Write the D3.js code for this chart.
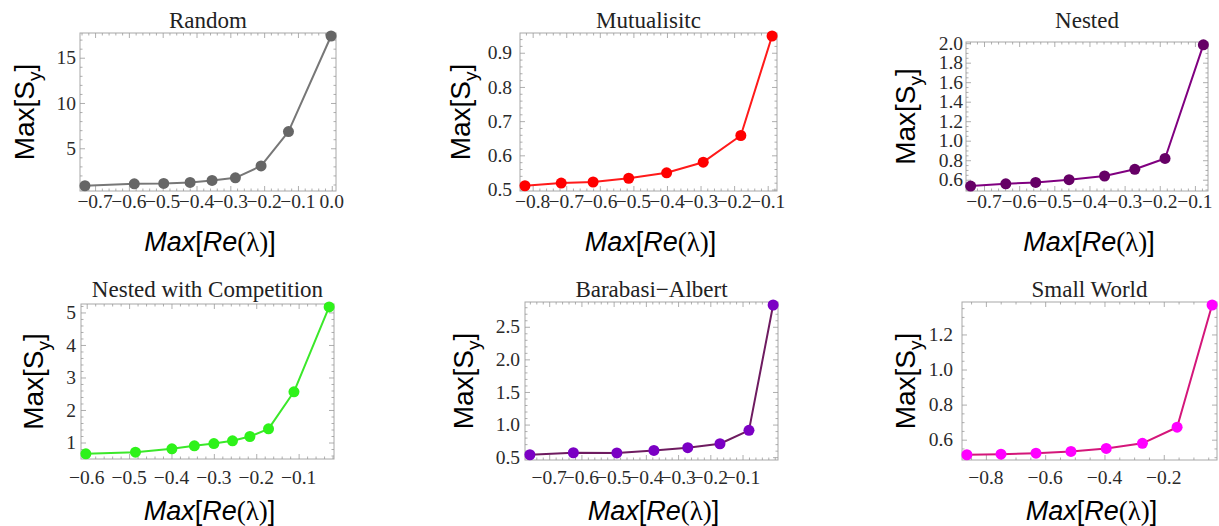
<!DOCTYPE html>
<html>
<head>
<meta charset="utf-8">
<script src="https://cdn.jsdelivr.net/npm/d3@7"></script>
<style>
  body { margin: 0; background: #fff; }
</style>
</head>
<body>
<svg id="chart" width="1219" height="526"></svg>
<script>
// values, one pair of arrays per panel
var titles = ["Random", "Mutualisitc", "Nested", "Nested with Competition",
              "Barabasi\u2212Albert", "Small World"];

var randomX = [-0.730, -0.584, -0.497, -0.419, -0.354, -0.285, -0.209, -0.128, -0.002];
var randomY = [0.86, 1.08, 1.12, 1.23, 1.45, 1.74, 3.05, 6.84, 17.4];

var mutualX = [-0.823, -0.715, -0.620, -0.514, -0.401, -0.292, -0.180, -0.087];
var mutualY = [0.511, 0.519, 0.522, 0.533, 0.549, 0.580, 0.658, 0.949];

var nestedX = [-0.738, -0.638, -0.553, -0.458, -0.357, -0.271, -0.185, -0.076];
var nestedY = [0.535, 0.558, 0.572, 0.600, 0.638, 0.707, 0.818, 1.983];

var competX = [-0.602, -0.485, -0.399, -0.346, -0.300, -0.256, -0.215, -0.171, -0.111, -0.028];
var competY = [0.651, 0.703, 0.805, 0.898, 0.969, 1.053, 1.185, 1.42, 2.56, 5.17];

var baX = [-0.760, -0.625, -0.490, -0.375, -0.270, -0.170, -0.080, -0.005];
var baY = [0.537, 0.568, 0.565, 0.603, 0.645, 0.706, 0.911, 2.834];

var swX = [-0.864, -0.749, -0.631, -0.513, -0.394, -0.272, -0.155, -0.037];
var swY = [0.514, 0.517, 0.523, 0.533, 0.550, 0.579, 0.671, 1.368];

// tick values per panel
var randomXTicks = [-0.7, -0.6, -0.5, -0.4, -0.3, -0.2, -0.1, 0.0];
var randomYTicks = [5, 10, 15];
var mutualXTicks = [-0.8, -0.7, -0.6, -0.5, -0.4, -0.3, -0.2, -0.1];
var mutualYTicks = [0.5, 0.6, 0.7, 0.8, 0.9];
var nestedXTicks = [-0.7, -0.6, -0.5, -0.4, -0.3, -0.2, -0.1];
var nestedYTicks = [0.6, 0.8, 1.0, 1.2, 1.4, 1.6, 1.8, 2.0];
var competXTicks = [-0.6, -0.5, -0.4, -0.3, -0.2, -0.1];
var competYTicks = [1, 2, 3, 4, 5];
var baXTicks = [-0.7, -0.6, -0.5, -0.4, -0.3, -0.2, -0.1];
var baYTicks = [0.5, 1.0, 1.5, 2.0, 2.5];
var swXTicks = [-0.8, -0.6, -0.4, -0.2];
var swYTicks = [0.6, 0.8, 1.0, 1.2];

var panels = [
  {x: randomX, y: randomY, xt: randomXTicks, yt: randomYTicks, xm: 0.02, ym: 1,
   yf: "d", line: "#777777", dot: "#666666",
   box: [80, 336, 33, 191], ylab: 24, gap: 4, row: 0},
  {x: mutualX, y: mutualY, xt: mutualXTicks, yt: mutualYTicks, xm: 0.02, ym: 0.02,
   yf: ".1f", line: "#ff1a1a", dot: "#ff0000",
   box: [520, 777, 33, 191], ylab: 460, gap: 8, row: 0},
  {x: nestedX, y: nestedY, xt: nestedXTicks, yt: nestedYTicks, xm: 0.02, ym: 0.05,
   yf: ".1f", line: "#800080", dot: "#660066",
   box: [966, 1208, 42, 191], ylab: 905, gap: 3, row: 0},
  {x: competX, y: competY, xt: competXTicks, yt: competYTicks, xm: 0.02, ym: 0.2,
   yf: "d", line: "#3be82a", dot: "#2ef21a",
   box: [81, 334, 304, 459], ylab: 33, gap: 5, row: 1},
  {x: baX, y: baY, xt: baXTicks, yt: baYTicks, xm: 0.02, ym: 0.1,
   yf: ".1f", line: "#6e1b60", dot: "#7b00c4",
   box: [525, 778, 302, 460], ylab: 463, gap: 5, row: 1},
  {x: swX, y: swY, xt: swXTicks, yt: swYTicks, xm: 0.05, ym: 0.05,
   yf: ".1f", line: "#d4167a", dot: "#ff00ff",
   box: [962, 1217, 302, 460], ylab: 905, gap: 9, row: 1}
];

var rowTitle = [28, 297];
var rowTickBase = [208, 484];
var rowXLabel = [251, 520];

var serif = "Liberation Serif, Times New Roman, serif";
var sans = "Liberation Sans, Arial, sans-serif";
var tickFont = 19.5;

var svg = d3.select("#chart");

function padded(ext, lo, hi) {
  var r = ext[1] - ext[0];
  return [ext[0] - r * lo, ext[1] + r * hi];
}

function minorTicks(dom, step, major) {
  var out = [];
  var i0 = Math.ceil(dom[0] / step - 1e-9), i1 = Math.floor(dom[1] / step + 1e-9);
  for (var i = i0; i <= i1; i++) {
    var v = i * step;
    var hit = major.some(function(m) { return Math.abs(m - v) < step / 10; });
    if (!hit) out.push(v);
  }
  return out;
}

// tick marks only; labels are drawn as plain text below
function tickMarks(g) {
  g.select(".domain").remove();
  g.selectAll(".tick text").remove();
  g.selectAll(".tick line").attr("stroke", "#9a9a9a").attr("stroke-width", 0.8);
}

panels.forEach(function(p, i) {
  var b = p.box;
  var x = d3.scaleLinear().domain(padded(d3.extent(p.x), 0.02, 0.02)).range([b[0], b[1]]);
  var y = d3.scaleLinear().domain(padded(d3.extent(p.y), 0.035, 0.02)).range([b[3], b[2]]);
  var g = svg.append("g").attr("class", "panel");

  var xMinor = minorTicks(x.domain(), p.xm, p.xt);
  var yMinor = minorTicks(y.domain(), p.ym, p.yt);
  var xFmt = d3.format(".1f"), yFmt = d3.format(p.yf);

  // frame
  g.append("rect")
    .attr("x", b[0]).attr("y", b[2])
    .attr("width", b[1] - b[0]).attr("height", b[3] - b[2])
    .attr("fill", "none").attr("stroke", "#a8a8a8").attr("stroke-width", 1);

  // ticks on all four sides, pointing inwards
  [[d3.axisBottom, b[3], p.xt, 5], [d3.axisBottom, b[3], xMinor, 2.5],
   [d3.axisTop, b[2], p.xt, 5], [d3.axisTop, b[2], xMinor, 2.5]].forEach(function(a) {
    g.append("g").attr("transform", "translate(0," + a[1] + ")")
      .call(a[0](x).tickValues(a[2]).tickSizeInner(-a[3]).tickSizeOuter(0))
      .call(tickMarks);
  });
  [[d3.axisLeft, b[0], p.yt, 5], [d3.axisLeft, b[0], yMinor, 2.5],
   [d3.axisRight, b[1], p.yt, 5], [d3.axisRight, b[1], yMinor, 2.5]].forEach(function(a) {
    g.append("g").attr("transform", "translate(" + a[1] + ",0)")
      .call(a[0](y).tickValues(a[2]).tickSizeInner(-a[3]).tickSizeOuter(0))
      .call(tickMarks);
  });

  // tick labels
  g.selectAll("text.xtick")
    .data(p.xt)
    .enter().append("text")
    .attr("class", "xtick")
    .attr("x", function(d) { return x(d); })
    .attr("y", rowTickBase[p.row])
    .attr("text-anchor", "middle")
    .attr("font-family", serif)
    .attr("font-size", tickFont)
    .attr("fill", "#2a2a2a")
    .text(xFmt);
  g.selectAll("text.ytick")
    .data(p.yt)
    .enter().append("text")
    .attr("class", "ytick")
    .attr("x", b[0] - p.gap)
    .attr("y", function(d) { return y(d); })
    .attr("dy", "0.34em")
    .attr("text-anchor", "end")
    .attr("font-family", serif)
    .attr("font-size", tickFont)
    .attr("fill", "#2a2a2a")
    .text(yFmt);

  // series
  var pts = d3.zip(p.x, p.y);
  g.append("path")
    .datum(pts)
    .attr("fill", "none")
    .attr("stroke", p.line)
    .attr("stroke-width", 2)
    .attr("stroke-linejoin", "round")
    .attr("d", d3.line().x(function(d) { return x(d[0]); }).y(function(d) { return y(d[1]); }));
  g.selectAll("circle.pt")
    .data(pts)
    .enter().append("circle")
    .attr("class", "pt")
    .attr("cx", function(d) { return x(d[0]); })
    .attr("cy", function(d) { return y(d[1]); })
    .attr("r", 5.5)
    .attr("fill", p.dot);

  // title
  g.append("text")
    .attr("x", (b[0] + b[1]) / 2)
    .attr("y", rowTitle[p.row])
    .attr("text-anchor", "middle")
    .attr("font-family", serif)
    .attr("font-size", 23)
    .attr("fill", "#222")
    .text(titles[i]);

  // y label: Max[S_y]
  var yl = g.append("text")
    .attr("transform", "translate(" + p.ylab + "," + (b[2] + b[3]) / 2 + ") rotate(-90)")
    .attr("text-anchor", "middle")
    .attr("dy", "0.35em")
    .attr("font-family", sans)
    .attr("font-size", 28)
    .attr("fill", "#000");
  yl.append("tspan").text("Max[S");
  yl.append("tspan").attr("dy", 7).attr("font-size", 19).text("y");
  yl.append("tspan").attr("dy", -7).text("]");

  // x label: Max[Re(lambda)]
  var xl = g.append("text")
    .attr("x", (b[0] + b[1]) / 2 + 2)
    .attr("y", rowXLabel[p.row])
    .attr("text-anchor", "middle")
    .attr("font-family", sans)
    .attr("font-size", 27)
    .attr("fill", "#000");
  xl.append("tspan").attr("font-style", "italic").text("Max");
  xl.append("tspan").text("[");
  xl.append("tspan").attr("font-style", "italic").text("Re");
  xl.append("tspan").attr("font-family", serif).text("(\u03bb)");
  xl.append("tspan").text("]");
});
</script>
</body>
</html>
